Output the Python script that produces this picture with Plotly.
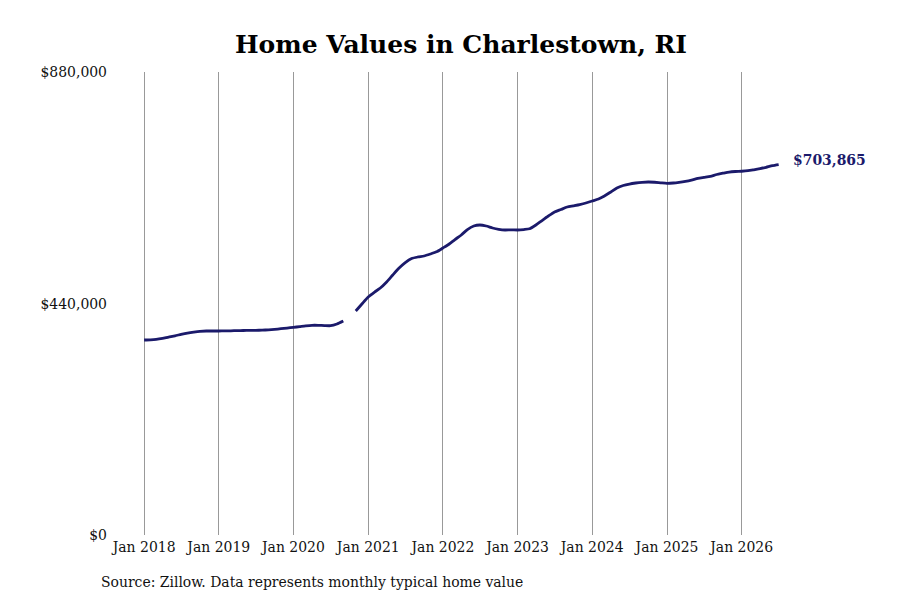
import pandas as pd
import plotly.graph_objects as go

# monthly typical home value, Jan 2018 .. Jul 2026 (Oct 2020 missing)
months = pd.date_range("2018-01-01", "2026-07-01", freq="MS")
values = [
    370600, 371000, 371900, 373800, 376300, 378600, 381400, 383900, 385800, 387200, 387700, 387700,
    387700, 387900, 388100, 388500, 388700, 388900, 389000, 389400, 390000, 390900, 392100, 393400,
    394600, 396100, 397600, 398600, 398600, 398000, 397800, 401000, 406700, None, 425700, 439000,
    452300, 461800, 469400, 480900, 494200, 507500, 517900, 525500, 528400, 530300, 534100, 538200,
    545500, 553100, 561600, 570200, 580600, 587300, 589200, 587300, 583500, 581000, 579700, 580100,
    579700, 580600, 582000, 589200, 597700, 606300, 613900, 618600, 623400, 625700, 628100, 631000,
    634800, 638600, 644300, 651900, 659500, 664300, 667100, 669000, 670300, 670900, 670500, 669400,
    668400, 669000, 670300, 672200, 674700, 677900, 679800, 681700, 685200, 687600, 689900, 690900,
    691400, 692400, 694100, 696200, 698900, 701900, 703865,
]

tick_dates = pd.date_range("2018-01-01", "2026-01-01", freq="YS")
tick_labels = [f"Jan {d.year}" for d in tick_dates]
y_ticks = [0, 440000, 880000]
y_labels = ["$0", "$440,000", "$880,000"]

navy = "#1b1a6b"
serif = "DejaVu Serif Condensed, DejaVu Serif, serif"

fig = go.Figure()
fig.add_trace(go.Scatter(
    x=months,
    y=values,
    mode="lines",
    line=dict(color=navy, width=2.8, shape="spline", smoothing=0.6),
    connectgaps=False,
    hoverinfo="skip",
))

fig.add_annotation(
    x=months[-1], y=values[-1],
    text=f"<b>${values[-1]:,}</b>",
    showarrow=False, xanchor="left", xshift=12, yshift=5,
    font=dict(family=serif, size=15.5, color=navy),
)

fig.add_annotation(
    x=-0.0193, y=-0.1015, xref="paper", yref="paper",
    text="Source: Zillow. Data represents monthly typical home value",
    showarrow=False, xanchor="left", yanchor="middle",
    font=dict(family=serif, size=15.5, color="#111111"),
)

fig.update_layout(
    width=900, height=600,
    margin=dict(l=104, r=123, t=64, b=73),
    paper_bgcolor="white", plot_bgcolor="white",
    showlegend=False,
    title=dict(
        text="<b>Home Values in Charlestown, RI</b>",
        x=453 / 900, xanchor="center", y=1 - 36 / 600, yanchor="middle",
        font=dict(family="DejaVu Serif, serif", size=25, color="black"),
    ),
    font=dict(family=serif, size=15.5, color="#111111"),
    xaxis=dict(
        range=["2017-07-28", "2026-08-01"],
        tickvals=tick_dates, ticktext=tick_labels,
        showgrid=True, gridcolor="#999999", gridwidth=1,
        showline=False, zeroline=False, ticks="",
        tickfont=dict(family=serif, size=15.5, color="#111111"),
    ),
    yaxis=dict(
        range=[0, 880000],
        tickvals=y_ticks, ticktext=y_labels,
        showgrid=False, showline=False, zeroline=False, ticks="",
        ticklabelstandoff=4,
        tickfont=dict(family=serif, size=15.5, color="#111111"),
    ),
)

fig.write_html("out.html")
